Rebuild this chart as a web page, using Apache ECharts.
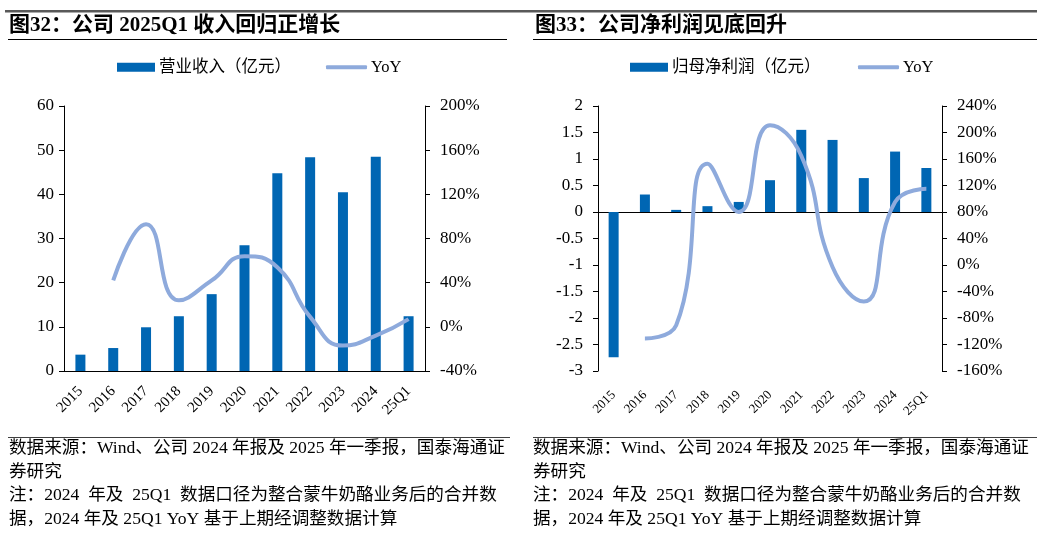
<!DOCTYPE html>
<html>
<head>
<meta charset="utf-8">
<script src="https://cdn.jsdelivr.net/npm/echarts@6/dist/echarts.min.js"></script>
<style>
  html, body { margin: 0; padding: 0; background: #fff; }
  #main { width: 1037px; height: 535px; }
</style>
</head>
<body>
<div id="main"></div>
<script>

var years = ['2015', '2016', '2017', '2018', '2019', '2020', '2021', '2022', '2023', '2024', '25Q1'];

// 图32
var revenue = [3.7, 5.2, 9.9, 12.4, 17.4, 28.5, 44.8, 48.4, 40.5, 48.5, 12.4];
var revenueYoY = [null, 42, 93, 24, 42, 64, 54, 9, -17, -8, 7];

// 图33
var netProfit = [-2.74, 0.33, 0.04, 0.11, 0.19, 0.60, 1.55, 1.36, 0.64, 1.14, 0.83];
var profitYoY = [null, -111, -91, 153, 80, 211, 165, -3, -55, 95, 115];

var FONT = '"Liberation Serif", "Noto Sans CJK SC", serif';
var BAR = '#0066B3';
var LINE = '#8EAADC';

var notes = [
	'数据来源：Wind、公司 2024 年报及 2025 年一季报，国泰海通证',
	'券研究',
	'注：2024  年及  25Q1  数据口径为整合蒙牛奶酪业务后的合并数',
	'据，2024 年及 25Q1 YoY 基于上期经调整数据计算'
];


function valueAxis(grid, pos, min, max, step, fmt, margin) {
	return {
		type: 'value',
		gridIndex: grid,
		position: pos,
		min: min,
		max: max,
		interval: step,
		axisLine: { show: true, lineStyle: { color: '#000', width: 1 } },
		axisTick: { show: true, inside: false, length: 5, lineStyle: { color: '#000' } },
		splitLine: { show: false },
		axisLabel: { color: '#000', fontFamily: FONT, fontSize: 17, margin: margin, formatter: fmt }
	};
}

function legendItem(name, left, kind) {
	return {
		data: [name],
		left: left,
		top: 59,
		icon: kind === 'bar' ? 'rect' : 'roundRect',
		itemWidth: kind === 'bar' ? 38 : 41,
		itemHeight: kind === 'bar' ? 9 : 4,
		itemGap: 4,
		padding: 0,
		selectedMode: false,
		textStyle: { color: '#000', fontFamily: FONT, fontSize: 16.5, padding: [0, 0, 0, -1] }
	};
}

function noteTexts(x) {
	return notes.map(function (t, i) {
		return {
			type: 'text',
			left: x,
			top: 440 + i * 23.5,
			style: { text: t, fill: '#000', font: '17.6px ' + FONT }
		};
	});
}


var myChart = echarts.init(document.getElementById('main'));

var option = {
	backgroundColor: '#fff',
	animation: false,

	grid: [
		{ left: 64, right: 612, top: 106, bottom: 164 },
		{ left: 598, right: 95, top: 106, bottom: 164 }
	],

	legend: [
		legendItem('营业收入（亿元）', 117, 'bar'),
		legendItem('YoY', 326, 'line'),
		legendItem('归母净利润（亿元）', 630, 'bar'),
		legendItem('YoY', 858, 'line')
	],

	xAxis: [
		{
			type: 'category',
			gridIndex: 0,
			data: years,
			axisLine: { onZero: false, lineStyle: { color: '#000' } },
			axisTick: { inside: true, length: 5, lineStyle: { color: '#000' } },
			axisLabel: { color: '#000', fontFamily: FONT, fontSize: 15, rotate: 45, margin: 18, interval: 0 }
		},
		{
			// zero line with ticks
			type: 'category',
			gridIndex: 1,
			data: years,
			axisLine: { onZero: true, onZeroAxisIndex: 2, lineStyle: { color: '#000' } },
			axisTick: { inside: true, length: 5, lineStyle: { color: '#000' } },
			axisLabel: { show: false }
		},
		{
			// labels at the bottom
			type: 'category',
			gridIndex: 1,
			position: 'bottom',
			data: years,
			axisLine: { show: false, onZero: false },
			axisTick: { show: false },
			axisLabel: { color: '#000', fontFamily: FONT, fontSize: 13, rotate: 45, margin: 22, interval: 0 }
		}
	],

	yAxis: [
		valueAxis(0, 'left', 0, 60, 10, '{value}', 10),
		valueAxis(0, 'right', -40, 200, 40, '{value}%', 15),
		valueAxis(1, 'left', -3, 2, 0.5, '{value}', 15),
		valueAxis(1, 'right', -160, 240, 40, '{value}%', 15)
	],

	series: [
		{
			name: '营业收入（亿元）',
			type: 'bar',
			xAxisIndex: 0,
			yAxisIndex: 0,
			barWidth: 10,
			itemStyle: { color: BAR },
			data: revenue
		},
		{
			name: 'YoY',
			type: 'line',
			xAxisIndex: 0,
			yAxisIndex: 1,
			smooth: 0.5,
			symbol: 'none',
			lineStyle: { color: LINE, width: 4 },
			itemStyle: { color: LINE },
			data: revenueYoY
		},
		{
			name: '归母净利润（亿元）',
			type: 'bar',
			xAxisIndex: 1,
			yAxisIndex: 2,
			barWidth: 10,
			itemStyle: { color: BAR },
			data: netProfit
		},
		{
			name: 'YoY',
			type: 'line',
			xAxisIndex: 1,
			yAxisIndex: 3,
			smooth: 0.5,
			symbol: 'none',
			lineStyle: { color: LINE, width: 4 },
			itemStyle: { color: LINE },
			data: profitYoY
		}
	],

	graphic: [
		// top rule
		{ type: 'rect', shape: { x: 5, y: 10, width: 1032, height: 2.5 }, style: { fill: '#595959' } },

		// titles
		{ type: 'text', left: 9, top: 15, style: { text: '图32：公司 2025Q1 收入回归正增长', fill: '#000', font: 'bold 21px ' + FONT } },
		{ type: 'text', left: 535, top: 15, style: { text: '图33：公司净利润见底回升', fill: '#000', font: 'bold 21px ' + FONT } },
		{ type: 'line', shape: { x1: 8, y1: 39.5, x2: 507, y2: 39.5 }, style: { stroke: '#000', lineWidth: 1 } },
		{ type: 'line', shape: { x1: 533, y1: 39.5, x2: 1037, y2: 39.5 }, style: { stroke: '#000', lineWidth: 1 } },

		// source rules
		{ type: 'line', shape: { x1: 8, y1: 437.5, x2: 510, y2: 437.5 }, style: { stroke: '#404040', lineWidth: 1 } },
		{ type: 'line', shape: { x1: 533, y1: 437.5, x2: 1037, y2: 437.5 }, style: { stroke: '#404040', lineWidth: 1 } }
	].concat(noteTexts(9)).concat(noteTexts(533))
};


// show the Chart
myChart.setOption(option);

</script>
</body>
</html>
